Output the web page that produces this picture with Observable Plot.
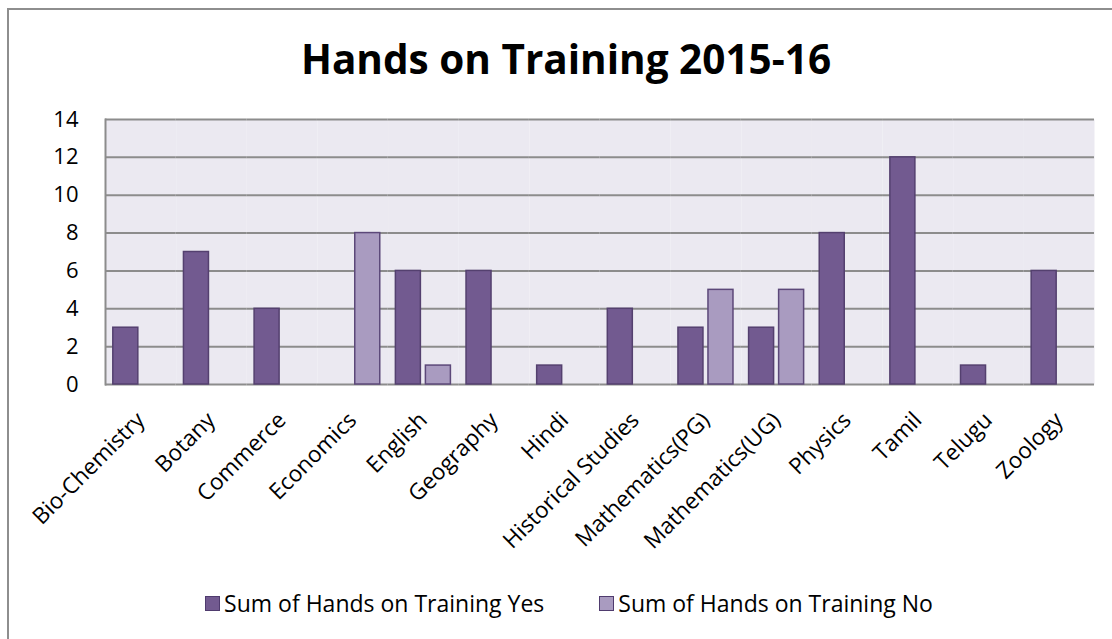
<!DOCTYPE html>
<html>
<head>
<meta charset="utf-8">
<script src="https://cdn.jsdelivr.net/npm/d3@7"></script>
<script src="https://cdn.jsdelivr.net/npm/@observablehq/plot@0.6"></script>
<style>
  html, body { margin: 0; padding: 0; background: #fff; overflow: hidden; width: 1112px; height: 639px; }
  #frame { position: absolute; left: 7px; top: 8px; width: 1200px; height: 700px; border-top: 2px solid #8e8e8e; border-left: 2px solid #8e8e8e; box-sizing: border-box; }
  #wrap { position: absolute; left: 0; top: 0; width: 1112px; }
  #title { height: 100px; line-height: 1; font-family: "Open Sans", sans-serif; font-weight: 700; font-size: 40.5px; color: #000; text-align: center; padding-top: 39px; box-sizing: border-box; padding-left: 20px; }
  #legend { position: absolute; left: 0; top: 588px; width: 1112px; display: flex; justify-content: center; gap: 55px; font-family: "Open Sans", sans-serif; font-size: 23px; line-height: 30px; color: #000; padding-left: 26px; box-sizing: border-box; }
  .item { display: flex; align-items: center; gap: 4px; }
  .sw { width: 15px; height: 15px; box-sizing: border-box; border: 1px solid #4f3b6e; }
</style>
</head>
<body>
<div id="frame"></div>
<div id="wrap">
  <div id="title">Hands on Training 2015-16</div>
  <div id="chart"></div>
</div>
<div id="legend"></div>
<script>
const categories = ["Bio-Chemistry", "Botany", "Commerce", "Economics", "English", "Geography", "Hindi", "Historical Studies", "Mathematics(PG)", "Mathematics(UG)", "Physics", "Tamil", "Telugu", "Zoology"];
const yesValues = [3, 7, 4, null, 6, 6, 1, 4, 3, 3, 8, 12, 1, 6];
const noValues  = [null, null, null, 8, 1, null, null, null, 5, 5, null, null, null, null];
const seriesKeys = ["Yes", "No"];
const seriesLabels = ["Sum of Hands on Training Yes", "Sum of Hands on Training No"];
const yTicks = [0, 2, 4, 6, 8, 10, 12, 14];

const fills = ["#725a90", "#a99bc0"];
const strokes = ["#54406f", "#5c4879"];

const rows = [];
categories.forEach((c, i) => {
  if (yesValues[i] != null) rows.push({category: c, series: "Yes", value: yesValues[i]});
  if (noValues[i] != null) rows.push({category: c, series: "No", value: noValues[i]});
});

const chart = Plot.plot({
  width: 1112,
  height: 470,
  marginTop: 19,
  marginBottom: 186,
  marginLeft: 105,
  marginRight: 18,
  style: {fontFamily: "'Open Sans', sans-serif", fontSize: "22px", color: "#000", background: "transparent", overflow: "visible"},
  fx: {domain: categories, padding: 0, round: false, label: null},
  x: {domain: seriesKeys, paddingInner: 0.167, paddingOuter: 0.26, round: false, axis: null},
  y: {domain: [0, 14], ticks: yTicks, label: null},
  color: {domain: seriesKeys, range: fills},
  marks: [
    Plot.frame({fill: "#ebe9f1", stroke: null}),
    Plot.gridY(yTicks.filter(d => d > 0), {stroke: "#8c8c8c", strokeOpacity: 1, strokeWidth: 2}),
    Plot.ruleY([0], {stroke: "#8c8c8c", strokeWidth: 2}),
    Plot.barY(rows, {fx: "category", x: "series", y: "value", fill: "series",
      stroke: d => strokes[seriesKeys.indexOf(d.series)], strokeWidth: 1.5}),
    Plot.frame({anchor: "left", facetAnchor: "left", stroke: "#8c8c8c", strokeWidth: 2}),
    Plot.axisY(yTicks, {tickSize: 0, tickPadding: 27, fontSize: 22, label: null}),
    Plot.axisFx({anchor: "bottom", tickRotate: -45, tickSize: 0, tickPadding: 10, dy: 22, dx: 0, fontSize: 22.5, label: null})
  ]
});
document.getElementById("chart").appendChild(chart);

const legend = document.getElementById("legend");
seriesKeys.forEach((k, i) => {
  const item = document.createElement("div");
  item.className = "item";
  const sw = document.createElement("div");
  sw.className = "sw";
  sw.style.background = fills[i];
  const t = document.createElement("span");
  t.textContent = seriesLabels[i];
  item.appendChild(sw);
  item.appendChild(t);
  legend.appendChild(item);
});
</script>
</body>
</html>
